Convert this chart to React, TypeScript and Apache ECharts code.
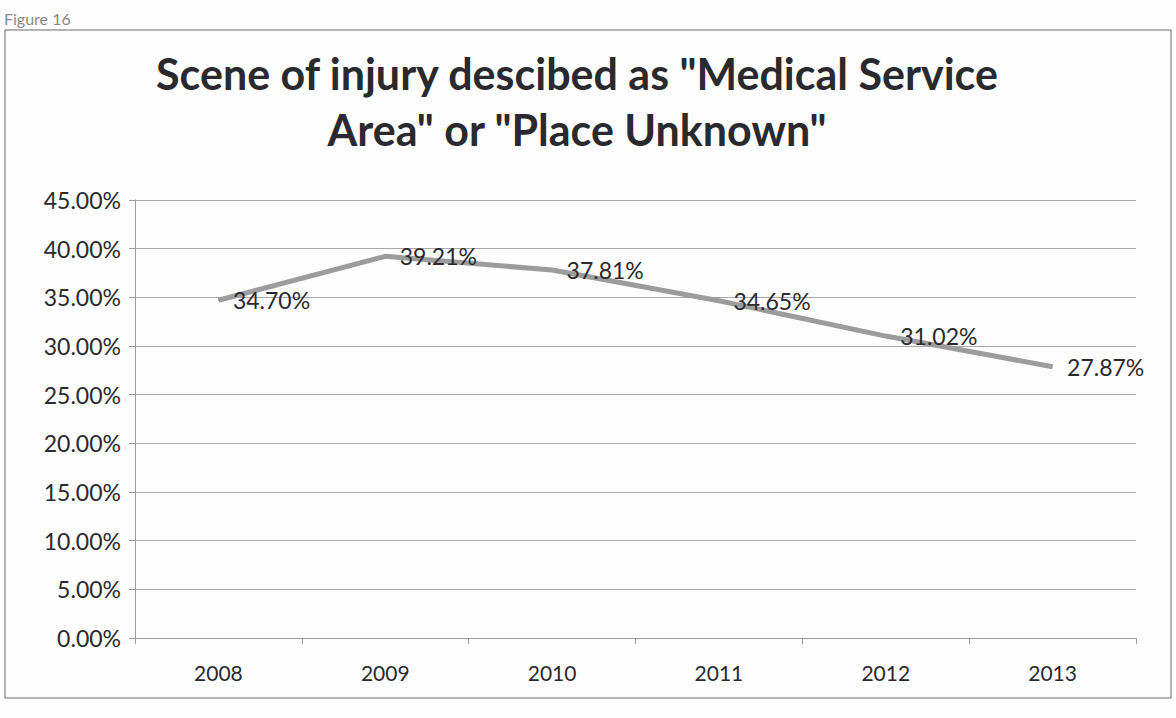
import React, { useEffect, useRef } from "react";
import * as echarts from "echarts";

const years = ["2008", "2009", "2010", "2011", "2012", "2013"];
const shares = [34.7, 39.21, 37.81, 34.65, 31.02, 27.87];
const titleText = 'Scene of injury descibed as "Medical Service\nArea" or "Place Unknown"';
const figureLabel = "Figure 16";

export default function App() {
  const ref = useRef<HTMLDivElement>(null);
  useEffect(() => {
    const chart = echarts.init(ref.current!, null, { renderer: "svg" });
    chart.setOption({
      animation: false,
      backgroundColor: "#fdfdfd",
      title: {
        text: titleText,
        left: 572,
        top: 40,
        textAlign: "center",
        textStyle: {
          fontFamily: "Lato",
          fontWeight: "bold",
          fontSize: 43,
          lineHeight: 56,
          color: "#2a2a2e",
        },
      },
      graphic: [
        {
          type: "rect",
          shape: { x: 5, y: 30, width: 1166, height: 668 },
          style: { fill: "none", stroke: "#9a9a9a", lineWidth: 1.5 },
          silent: true,
        },
        {
          type: "text",
          left: 4,
          top: 10,
          style: { text: figureLabel, fontFamily: "Lato", fontSize: 16, fill: "#8a8a8a" },
        },
      ],
      grid: { left: 135, right: 40, top: 200, bottom: 80, containLabel: false },
      xAxis: {
        type: "category",
        data: years,
        axisLine: { lineStyle: { color: "#9a9a9a" } },
        axisTick: { show: true, lineStyle: { color: "#9a9a9a" }, length: 6 },
        axisLabel: { fontFamily: "Lato", fontSize: 21, color: "#2a2a2e", margin: 24 },
      },
      yAxis: {
        type: "value",
        min: 0,
        max: 45,
        interval: 5,
        axisLine: { show: true, lineStyle: { color: "#9a9a9a" } },
        axisTick: { show: true, lineStyle: { color: "#9a9a9a" }, length: 6 },
        splitLine: { lineStyle: { color: "#a8a8a8", width: 1 } },
        axisLabel: {
          fontFamily: "Lato",
          fontSize: 23,
          color: "#2a2a2e",
          margin: 14,
          formatter: (v: number) => v.toFixed(2) + "%",
        },
      },
      series: [
        {
          type: "line",
          data: shares,
          symbol: "circle",
          symbolSize: 1,
          showSymbol: true,
          itemStyle: { color: "#9c9c9c" },
          lineStyle: { color: "#9c9c9c", width: 5 },
          label: {
            show: true,
            position: "right",
            distance: 14,
            fontFamily: "Lato",
            fontSize: 23,
            color: "#2a2a2e",
            formatter: (p: any) => p.value.toFixed(2) + "%",
          },
        },
      ],
    });
    return () => chart.dispose();
  }, []);
  return (
    <div
      ref={ref}
      style={{ position: "fixed", left: 0, top: 0, width: 1176, height: 718 }}
    />
  );
}
